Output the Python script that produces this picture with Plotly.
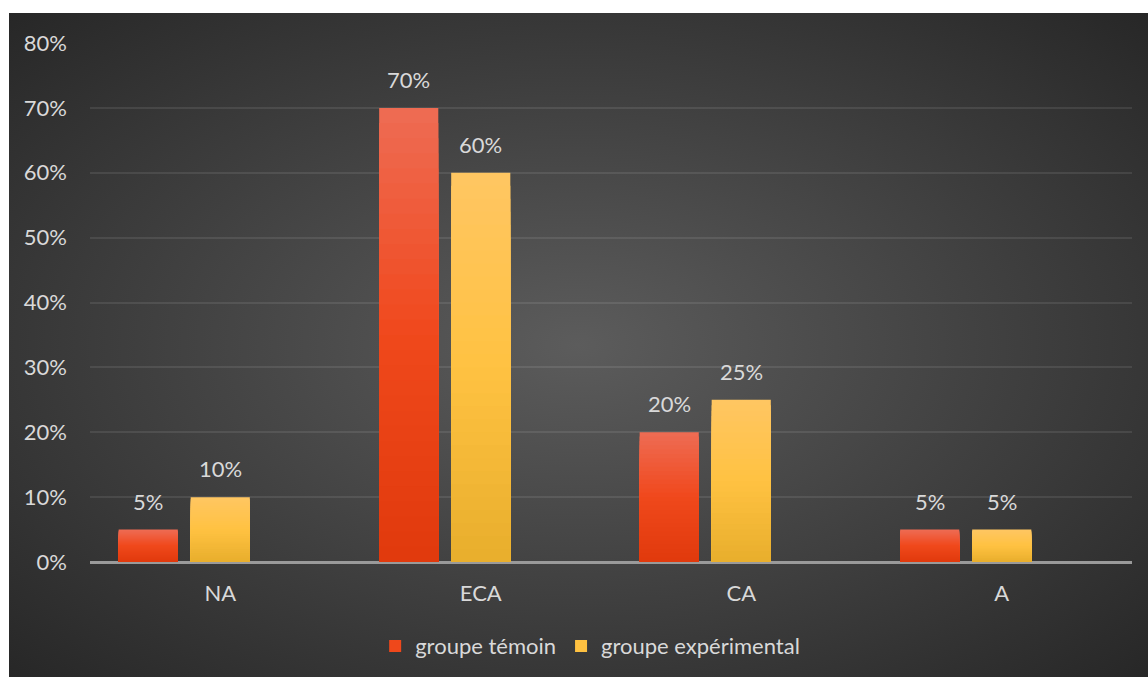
import base64
import plotly.graph_objects as go

# ---------------- data ----------------
categories = ["NA", "ECA", "CA", "A"]
series_names = ["groupe témoin", "groupe expérimental"]
temoin = [0.05, 0.70, 0.20, 0.05]
experimental = [0.10, 0.60, 0.25, 0.05]
y_tick_vals = [0, 0.1, 0.2, 0.3, 0.4, 0.5, 0.6, 0.7, 0.8]
y_tick_text = ["0%", "10%", "20%", "30%", "40%", "50%", "60%", "70%", "80%"]

# ---------------- style ----------------
W, H = 1148, 677
L, R, T, B = 90, 16, 43, 115
PW, PH = W - L - R, H - T - B
FONT = "Lato, 'Open Sans', sans-serif"
TXT = "#d9d9d9"
FS = 22

BAR_W = 0.227                 # bar width in category units
OFFSETS = [-0.390, -0.1135]   # left edge of each series' bar relative to category
LABEL_SHIFT = [-72, 0]        # px shift of data labels

# gradient stops (t=0 bottom, t=1 top)
RED_STOPS = [(0.0, (224, 58, 12)), (0.5, (240, 72, 28)), (1.0, (238, 108, 84))]
YEL_STOPS = [(0.0, (232, 174, 44)), (0.5, (255, 194, 66)), (1.0, (255, 198, 98))]


def interp(stops, t):
    for (t0, c0), (t1, c1) in zip(stops[:-1], stops[1:]):
        if t <= t1:
            f = (t - t0) / (t1 - t0) if t1 > t0 else 0
            c = [round(a + (b - a) * f) for a, b in zip(c0, c1)]
            return "rgb(%d,%d,%d)" % tuple(c)
    return "rgb(%d,%d,%d)" % stops[-1][1]


fig = go.Figure()
N = 30
for i, (name, vals, stops) in enumerate([
    (series_names[0], temoin, RED_STOPS),
    (series_names[1], experimental, YEL_STOPS),
]):
    # overlapping bars from the base: tallest (top colour) first, shortest last
    for k in range(N):
        frac = (N - k) / N
        t = (N - k - 0.5) / N
        fig.add_trace(go.Bar(
            x=categories,
            y=[v * frac for v in vals],
            name=name,
            width=BAR_W,
            offset=OFFSETS[i],
            legendgroup="g%d" % i,
            showlegend=(k == N // 2),
            marker=dict(color=interp(stops, t), line=dict(width=0)),
            hoverinfo="skip",
        ))

# data labels
for vals, shift in [(temoin, LABEL_SHIFT[0]), (experimental, LABEL_SHIFT[1])]:
    for c, v in zip(categories, vals):
        fig.add_annotation(
            x=c, y=v, xref="x", yref="y", text="%d%%" % round(v * 100),
            showarrow=False, xshift=shift, yanchor="bottom", yshift=13,
            font=dict(family=FONT, size=FS, color=TXT),
        )

# radial gradient background as an SVG image
svg = (
    '<svg xmlns="http://www.w3.org/2000/svg" width="1139" height="664" '
    'preserveAspectRatio="none" viewBox="0 0 1139 664">'
    '<defs><radialGradient id="g" cx="0.5" cy="0.5" r="0.72">'
    '<stop offset="0" stop-color="#5c5c5c"/>'
    '<stop offset="1" stop-color="#262626"/>'
    '</radialGradient></defs>'
    '<rect x="0" y="0" width="1139" height="664" fill="url(#g)"/></svg>'
)
src = "data:image/svg+xml;base64," + base64.b64encode(svg.encode()).decode()
bx0, bx1, by0, by1 = 9, W, 13, H
fig.add_layout_image(
    source=src, xref="paper", yref="paper",
    x=(bx0 - L) / PW, y=(H - B - by0) / PH,
    sizex=(bx1 - bx0) / PW, sizey=(by1 - by0) / PH,
    sizing="stretch", xanchor="left", yanchor="top", layer="below",
)

fig.update_layout(
    width=W, height=H,
    margin=dict(l=L, r=R, t=T, b=B, autoexpand=False),
    paper_bgcolor="white",
    plot_bgcolor="rgba(0,0,0,0)",
    barmode="overlay",
    font=dict(family=FONT, size=FS, color=TXT),
    legend=dict(
        orientation="h", x=0.48, xanchor="center", y=-0.162, yanchor="middle",
        font=dict(family=FONT, size=FS, color=TXT), bgcolor="rgba(0,0,0,0)",
        itemclick=False,
    ),
    showlegend=True,
)
fig.update_xaxes(
    range=[-0.5, 3.5], showgrid=False, showline=False, ticks="",
    automargin=False,
    ticklabelstandoff=16, tickfont=dict(family=FONT, size=FS, color=TXT),
)
fig.update_yaxes(
    range=[0, 0.8], tickvals=y_tick_vals, ticktext=y_tick_text,
    showgrid=True, gridcolor="rgba(255,255,255,0.09)", gridwidth=2,
    zeroline=True, zerolinecolor="#9a9a9a", zerolinewidth=3,
    showline=False, ticks="", ticklabelstandoff=22, automargin=False,
    tickfont=dict(family=FONT, size=FS, color=TXT),
)

fig.write_html("out.html")
